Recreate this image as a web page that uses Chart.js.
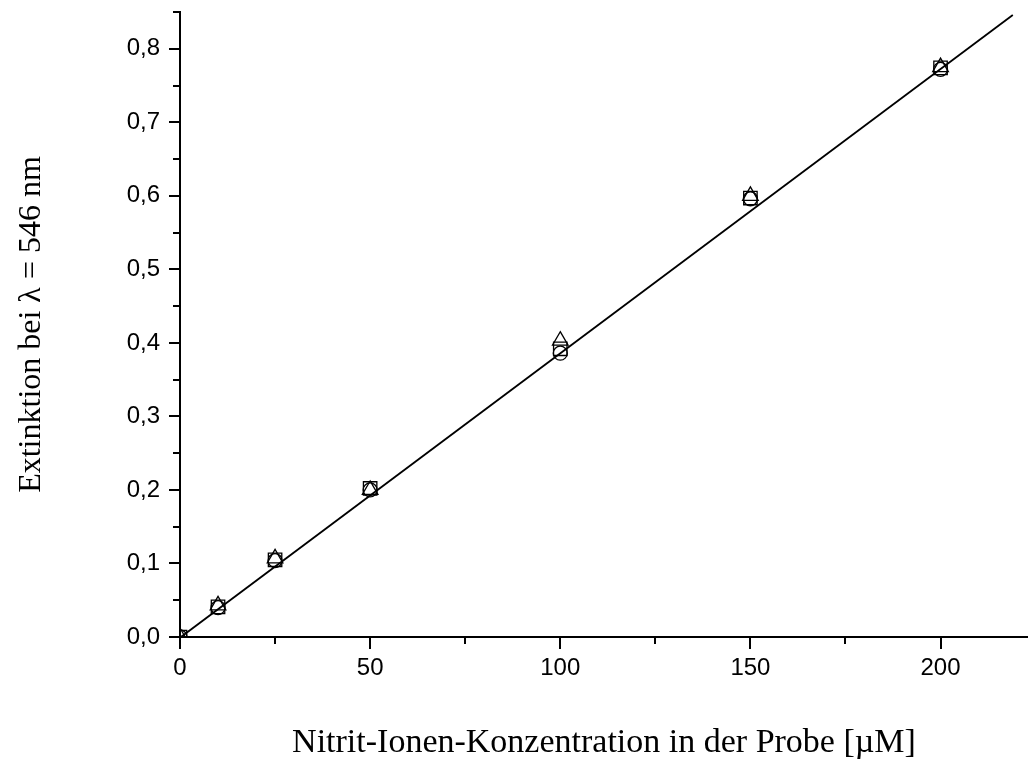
<!DOCTYPE html>
<html>
<head>
<meta charset="utf-8">
<script src="https://cdn.jsdelivr.net/npm/chart.js@4/dist/chart.umd.min.js"></script>
<style>
  body { margin: 0; background: #fff; }
  #wrap { width: 1028px; height: 767px; position: relative; }
</style>
</head>
<body>
<div id="wrap"><canvas id="chart"></canvas></div>
<script>
// Kalibrierung Nitrit
var konzentration = [0, 10, 25, 50, 100, 150, 200];
var serieQuadrat  = [0, 0.041, 0.105, 0.202, 0.392, 0.597, 0.774];
var serieKreis    = [0, 0.040, 0.104, 0.200, 0.386, 0.596, 0.772];
var serieDreieck  = [0, 0.043, 0.107, 0.200, 0.403, 0.600, 0.775];

// Regressionsgerade (Anfang / Ende)
var geradeX = [0, 219];
var geradeY = [-0.001, 0.846];

var xTicks = [0, 50, 100, 150, 200];
var xTickLabels = ['0', '50', '100', '150', '200'];
var xMinor = [25, 75, 125, 175];
var yTicks = [0, 0.1, 0.2, 0.3, 0.4, 0.5, 0.6, 0.7, 0.8];
var yTickLabels = ['0,0', '0,1', '0,2', '0,3', '0,4', '0,5', '0,6', '0,7', '0,8'];
var yMinor = [0.05, 0.15, 0.25, 0.35, 0.45, 0.55, 0.65, 0.75, 0.85];

function toPoints(xs, ys) {
    return xs.map(function(x, i) { return { x: x, y: ys[i] }; });
}

// kleine Zwischenstriche an den Achsen
var minorTicks = {
    id: 'minorTicks',
    afterDraw: function(chart) {
        var ctx = chart.ctx;
        var xs = chart.scales.x, ys = chart.scales.y;
        ctx.save();
        ctx.strokeStyle = '#000';
        ctx.lineWidth = 2;
        ctx.beginPath();
        xMinor.forEach(function(v) {
            var px = Math.round(xs.getPixelForValue(v));
            ctx.moveTo(px, xs.top);
            ctx.lineTo(px, xs.top + 7);
        });
        yMinor.forEach(function(v) {
            var py = Math.round(ys.getPixelForValue(v));
            ctx.moveTo(ys.right, py);
            ctx.lineTo(ys.right - 7, py);
        });
        ctx.stroke();
        ctx.restore();
    }
};

function markerSet(label, data, style, radius) {
    return {
        type: 'scatter',
        label: label,
        data: toPoints(konzentration, data),
        pointStyle: style,
        pointRadius: radius,
        pointBorderWidth: 1.3,
        pointBorderColor: '#000',
        pointBackgroundColor: 'rgba(0,0,0,0)',
        showLine: false
    };
}

new Chart(document.getElementById('chart'), {
    data: {
        datasets: [
            markerSet('Messung 1', serieQuadrat, 'rect', 9.5),
            markerSet('Messung 2', serieKreis, 'circle', 7),
            markerSet('Messung 3', serieDreieck, 'triangle', 9),
            {
                type: 'line',
                label: 'Regression',
                data: toPoints(geradeX, geradeY),
                borderColor: '#000',
                borderWidth: 1.8,
                pointRadius: 0,
                tension: 0,
                fill: false
            }
        ]
    },
    options: {
        responsive: true,
        maintainAspectRatio: false,
        animation: false,
        layout: { autoPadding: false, padding: { top: 12, right: 0, left: 0, bottom: 0 } },
        plugins: {
            legend: { display: false },
            tooltip: { enabled: false }
        },
        scales: {
            x: {
                type: 'linear',
                min: 0,
                max: 223,
                afterFit: function(scale) {
                    scale.height = 130;
                    scale.paddingLeft = 0;
                    scale.paddingRight = 0;
                },
                afterBuildTicks: function(scale) {
                    scale.ticks = xTicks.map(function(v) { return { value: v }; });
                },
                border: { display: true, color: '#000', width: 2 },
                grid: { drawOnChartArea: false, drawTicks: true, tickLength: 12, color: '#000', lineWidth: 2 },
                ticks: {
                    color: '#000',
                    padding: 5,
                    maxRotation: 0,
                    font: { family: 'Liberation Sans', size: 24 },
                    callback: function(value, index) { return xTickLabels[index]; }
                },
                title: {
                    display: true,
                    text: 'Nitrit-Ionen-Konzentration in der Probe [µM]',
                    color: '#000',
                    font: { family: 'Liberation Serif', size: 34 },
                    padding: { top: 0, bottom: 4 }
                }
            },
            y: {
                type: 'linear',
                min: 0,
                max: 0.85,
                afterFit: function(scale) {
                    scale.width = 180;
                    scale.paddingTop = 0;
                    scale.paddingBottom = 0;
                },
                afterBuildTicks: function(scale) {
                    scale.ticks = yTicks.map(function(v) { return { value: v }; });
                },
                border: { display: true, color: '#000', width: 2 },
                grid: { drawOnChartArea: false, drawTicks: true, tickLength: 11, color: '#000', lineWidth: 2 },
                ticks: {
                    color: '#000',
                    padding: 9,
                    font: { family: 'Liberation Sans', size: 24 },
                    callback: function(value, index) { return yTickLabels[index]; }
                },
                title: {
                    display: true,
                    text: 'Extinktion bei λ = 546 nm',
                    color: '#000',
                    font: { family: 'Liberation Serif', size: 32 },
                    padding: { top: 12, bottom: 0 }
                }
            }
        }
    },
    plugins: [minorTicks]
});
</script>
</body>
</html>
